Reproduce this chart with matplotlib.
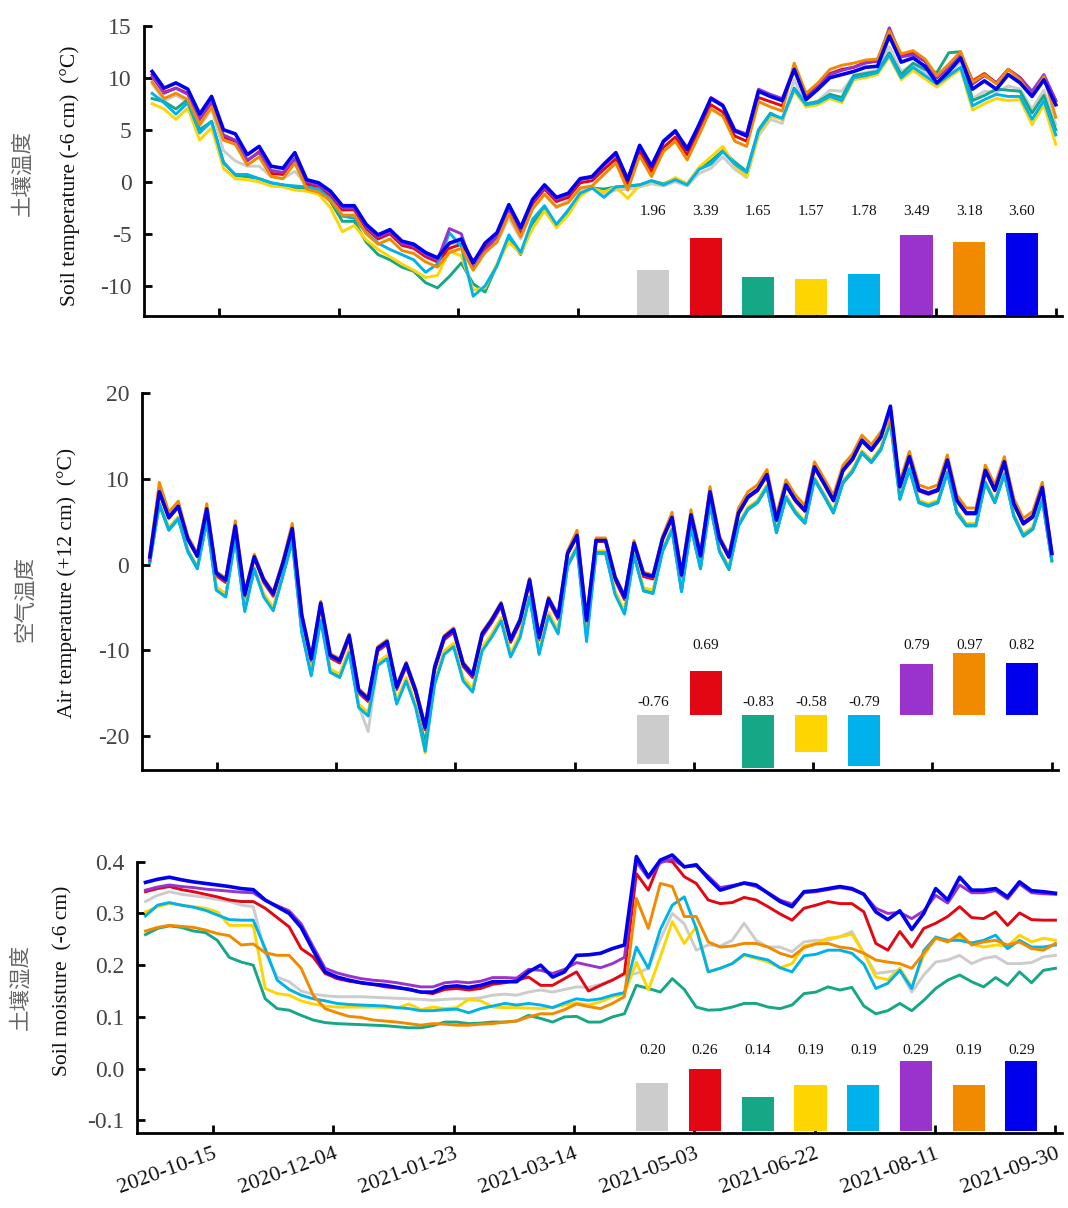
import numpy as np
import pandas as pd
import matplotlib
matplotlib.use("Agg")
import matplotlib.pyplot as plt

plt.rcParams['font.family'] = ['Liberation Serif', 'Noto Sans CJK SC', 'DejaVu Sans']
plt.rcParams['axes.unicode_minus'] = False

# series order = bar order
names = ["gray", "red", "green", "yellow", "cyan", "purple", "orange", "blue"]
colors = ["#CCCCCC", "#E30613", "#16A886", "#FFD500", "#00B2EB", "#9933CC", "#F28A00", "#0000EE"]

dates_soil = pd.date_range("2020-09-17", "2021-09-30", periods=77)
dates_air = pd.date_range("2020-09-17", "2021-09-30", periods=96)
tick_dates = pd.date_range("2020-10-15", periods=8, freq="50D")

# ---------------- soil temperature (-6 cm) ----------------
st_gray = [9.4, 7.8, 8.3, 7.7, 5.3, 7.0,
           3.0, 2.0, 1.5, 1.5, 0.5, 0.3, 1.0, -0.3, -0.5,
           -1.4, -2.8, -2.6, -4.0, -5.2, -5.0, -6.0, -6.3, -7.0, -7.4, -6.0, -5.8, -8.0, -6.5,
           -5.8, -3.5, -5.5, -2.6, -1.2, -2.5, -1.8, -0.8, -0.4,
           -1.2, -0.8, -0.7, -0.5, -0.2, -0.4, 0.0, -0.4, 0.8, 1.3, 2.4, 1.2, 0.4, 4.4, 6.0, 5.6,
           9.8, 7.2, 7.8, 8.8, 8.7, 10.2, 10.5, 10.7, 13.0, 10.6, 11.3, 10.5, 9.4, 10.4, 11.5, 8.0,
           8.7, 8.6, 9.2, 8.9, 7.0, 8.8, 5.5]
st_red = [10.3, 8.6, 9.0, 8.5, 6.0, 7.6, 4.3, 3.9, 2.0, 2.9, 0.8, 0.7, 2.2,
          -0.2, -0.5, -1.3, -2.7, -2.7, -4.5, -5.5, -5.0, -6.1, -6.4, -7.2, -7.7, -6.4, -6.0,
          -7.6, -6.3, -5.3, -2.7, -4.9, -2.1, -0.7, -1.9, -1.5, -0.1, 0.1,
          1.2, 2.2, -0.2, 2.9, 1.0, 3.3, 4.3, 2.6, 4.9, 7.4, 6.7, 4.4, 3.9, 8.1, 7.7, 7.3,
          11.2, 8.3, 9.3, 10.4, 10.8, 11.0, 11.5, 11.6, 14.6, 12.1, 12.4, 11.6, 10.0, 11.1, 12.3,
          9.7, 10.4, 9.5, 10.8, 10.0, 8.6, 10.2, 7.8]
st_green = [8.0, 7.7, 7.0, 7.9, 5.0, 5.8, 1.9, 0.6, 0.5, 0.3, -0.1, -0.3, -0.6, -0.6, -0.7,
            -1.9, -3.8, -3.8, -5.8, -7.0, -7.5, -8.2, -8.6, -9.7, -10.2, -9.1, -7.8, -9.8, -10.6,
            -8.0, -5.3, -7.0, -4.0, -2.5, -4.2, -2.9, -1.2, -0.6,
            -0.7, -0.5, -0.4, -0.3, 0.1, -0.2, 0.3, -0.2, 1.3, 2.0, 3.0, 1.9, 1.0, 5.0, 6.6, 6.0,
            9.0, 7.5, 7.7, 8.4, 8.1, 10.2, 10.4, 10.6, 12.4, 10.3, 11.4, 10.8, 10.5, 12.4, 12.5,
            7.8, 8.3, 8.9, 8.8, 8.7, 6.6, 8.3, 5.0]
st_yellow = [7.5, 7.0, 6.0, 7.1, 4.0, 5.2, 1.3, 0.3, 0.2, 0.0, -0.4, -0.5, -0.8, -0.9, -1.2,
             -2.5, -4.8, -4.2, -5.6, -6.5, -7.2, -7.9, -8.5, -9.2, -9.0, -6.7, -7.1, -10.4, -10.2,
             -7.9, -5.8, -6.9, -4.5, -2.8, -4.4, -3.2, -1.4, -0.6,
             -1.0, -0.5, -1.6, -0.3, 0.0, -0.3, 0.4, -0.2, 1.4, 2.4, 3.4, 1.6, 0.5, 4.6, 6.3, 6.0,
             8.7, 7.2, 7.4, 8.0, 7.6, 9.8, 10.0, 10.3, 12.0, 9.8, 10.7, 9.9, 9.1, 10.0, 10.8,
             6.9, 7.5, 8.0, 7.8, 7.9, 5.5, 7.4, 3.6]
st_cyan = [8.5, 7.6, 6.5, 7.6, 4.7, 5.8, 1.8, 0.7, 0.7, 0.3,
           -0.1, -0.3, -0.4, -0.5, -0.7, -1.7, -3.3, -3.5, -4.9, -5.9,
           -6.5, -7.0, -7.5, -8.7, -7.9, -4.9, -6.2, -11.0, -10.0, -8.1,
           -5.1, -6.8, -3.6, -2.3, -4.1, -2.7, -1.1, -0.6, -1.5, -0.5,
           -0.4, -0.3, 0.1, -0.3, 0.2, -0.3, 1.2, 1.7, 2.9, 1.7,
           0.9, 4.9, 6.5, 6.1, 8.9, 7.4, 7.6, 8.2, 7.8, 10.0,
           10.2, 10.5, 12.2, 10.0, 11.0, 10.2, 9.4, 10.2, 11.0, 7.3,
           7.9, 8.4, 8.2, 8.2, 6.0, 7.8, 4.5]
st_purple = [10.1, 8.5, 9.0, 8.4, 6.0, 7.7, 4.5, 4.0, 2.1, 2.8, 1.1, 0.9, 2.2,
             0.0, -0.3, -1.1, -2.5, -2.5, -4.3, -5.3, -4.8, -5.9, -6.2, -7.0, -7.5,
             -4.5, -5.0, -8.4, -6.6, -5.3, -2.6, -4.6, -1.9, -0.5, -1.7, -1.2, 0.2, 0.4,
             1.6, 2.6, 0.3, 3.4, 1.6, 3.8, 4.8, 3.3, 5.4, 8.1, 7.4, 5.0, 4.6, 8.9, 8.4, 8.0,
             11.0, 8.1, 9.1, 10.3, 10.7, 11.0, 11.4, 11.6, 14.8, 12.0, 12.2, 11.6, 10.0, 11.0,
             12.2, 9.4, 10.2, 9.5, 10.8, 10.0, 8.7, 10.3, 7.8]
st_orange = [9.6, 8.0, 8.5, 7.9, 5.5, 7.2, 4.0, 3.6, 1.6, 2.4, 0.5, 0.3, 1.8,
             -0.7, -1.0, -1.8, -3.2, -3.2, -5.0, -6.0, -5.5, -6.6, -6.9, -7.7, -8.2, -6.8, -6.4,
             -8.5, -6.8, -5.8, -3.1, -5.3, -2.6, -1.2, -2.4, -2.0, -0.6, -0.4,
             0.7, 1.8, -0.8, 2.5, 0.5, 2.9, 3.9, 2.1, 4.5, 7.0, 6.3, 3.9, 3.4, 7.7, 7.2, 6.8,
             11.4, 8.5, 9.5, 10.8, 11.2, 11.4, 11.7, 11.8, 14.5, 12.3, 12.6, 11.8, 10.2, 11.3,
             12.5, 9.6, 10.3, 9.4, 10.8, 9.8, 8.2, 10.1, 6.2]
st_blue = [10.6, 9.0, 9.5, 8.9, 6.5, 8.2, 5.0, 4.6, 2.6, 3.4,
           1.5, 1.3, 2.8, 0.2, -0.1, -0.9, -2.3, -2.3, -4.1, -5.1,
           -4.6, -5.7, -6.0, -6.8, -7.3, -5.9, -5.5, -7.8, -5.9, -4.9,
           -2.2, -4.4, -1.7, -0.3, -1.5, -1.1, 0.3, 0.5, 1.7, 2.8,
           0.2, 3.5, 1.5, 3.9, 4.9, 3.1, 5.5, 8.0, 7.3, 4.9,
           4.4, 8.7, 8.2, 7.8, 10.8, 7.9, 8.9, 10.0, 10.3, 10.6,
           11.0, 11.1, 14.0, 11.5, 11.9, 11.1, 9.5, 10.6, 11.9, 8.9,
           9.7, 8.9, 10.3, 9.5, 8.2, 9.8, 7.4]
st_means = [1.96, 3.39, 1.65, 1.57, 1.78, 3.49, 3.18, 3.60]

# ---------------- air temperature (+12 cm) ----------------
at_gray = [0.3, 7.1, 4.1, 5.4, 1.6, -0.4, 5.1, -2.8, -3.6, 3.1,
           -5.3, -0.5, -3.6, -5.2, -1.3, 2.8, -7.7, -12.8, -6.3, -12.4,
           -13.0, -10.1, -16.5, -19.5, -11.6, -10.8, -16.1, -13.4, -16.5, -20.8,
           -13.8, -10.3, -9.4, -13.4, -14.7, -9.9, -8.3, -6.4, -10.6, -8.3,
           -3.6, -10.3, -5.8, -7.9, -0.1, 2.0, -8.3, 1.4, 1.4, -3.3,
           -5.6, 1.1, -2.9, -3.2, 1.6, 4.1, -3.0, 4.4, -0.4, 7.1,
           1.6, -0.5, 4.6, 6.5, 7.3, 9.1, 3.8, 7.9, 6.1, 4.9,
           10.0, 8.1, 6.1, 9.6, 10.9, 13.1, 12.0, 13.5, 16.8, 7.7,
           11.2, 7.3, 6.9, 7.3, 10.8, 6.1, 4.6, 4.6, 9.6, 7.3,
           10.6, 5.7, 3.4, 4.2, 7.6, 0.5]
at_red = [0.8, 8.4, 5.4, 6.7, 2.9, 0.9, 6.4, -1.3, -2.1, 4.4,
          -3.8, 0.8, -2.1, -3.7, 0.0, 4.1, -6.2, -11.3, -4.8, -10.9,
          -11.5, -8.6, -15.0, -16.0, -10.1, -9.3, -14.6, -11.9, -15.0, -19.3,
          -12.3, -8.8, -7.9, -11.9, -13.2, -8.4, -6.8, -4.9, -9.1, -6.8,
          -2.1, -8.8, -4.3, -6.4, 1.2, 3.3, -6.8, 2.7, 2.7, -1.8,
          -4.1, 2.4, -1.4, -1.7, 2.9, 5.4, -1.5, 5.7, 0.9, 8.4,
          2.9, 0.8, 5.9, 7.8, 8.6, 10.4, 5.1, 9.2, 7.4, 6.2,
          11.3, 9.4, 7.4, 10.9, 12.2, 14.4, 13.3, 14.8, 17.6, 9.0,
          12.5, 8.6, 8.2, 8.6, 12.1, 7.4, 5.9, 5.9, 10.9, 8.6,
          11.9, 7.0, 4.7, 5.5, 8.9, 1.2]
at_green = [0.2, 7.0, 4.0, 5.3, 1.5, -0.5, 5.0, -2.8, -3.6, 3.0,
            -5.3, -0.6, -3.6, -5.2, -1.4, 2.7, -7.7, -12.8, -6.3, -12.4,
            -13.0, -10.1, -16.5, -17.5, -11.6, -10.8, -16.1, -13.4, -16.5, -20.8,
            -13.8, -10.3, -9.4, -13.4, -14.7, -9.9, -8.3, -6.4, -10.6, -8.3,
            -3.6, -10.3, -5.8, -7.9, -0.2, 1.9, -8.3, 1.3, 1.3, -3.3,
            -5.6, 1.0, -2.9, -3.2, 1.5, 4.0, -3.0, 4.3, -0.5, 7.0,
            1.5, -0.6, 4.5, 6.4, 7.2, 9.0, 3.7, 7.8, 6.0, 4.8,
            9.9, 8.0, 6.0, 9.5, 10.8, 13.0, 11.9, 13.4, 17.0, 7.6,
            11.1, 7.2, 6.8, 7.2, 10.7, 6.0, 4.5, 4.5, 9.5, 7.2,
            10.5, 5.6, 3.3, 4.1, 7.5, 0.4]
at_yellow = [0.4, 7.3, 4.3, 5.6, 1.8, -0.2, 5.3, -2.6, -3.4, 3.3,
             -5.1, -0.3, -3.4, -5.0, -1.1, 3.0, -7.5, -12.6, -6.1, -12.2,
             -12.8, -9.9, -16.3, -17.3, -11.4, -10.6, -15.9, -13.2, -16.3, -22.0,
             -13.6, -10.1, -9.2, -13.2, -14.5, -9.7, -8.1, -6.2, -10.4, -8.1,
             -3.4, -10.1, -5.6, -7.7, 0.1, 2.2, -8.1, 1.6, 1.6, -3.1,
             -5.4, 1.3, -2.7, -3.0, 1.8, 4.3, -2.8, 4.6, -0.2, 7.3,
             1.8, -0.3, 4.8, 6.7, 7.5, 9.3, 4.0, 8.1, 6.3, 5.1,
             10.2, 8.3, 6.3, 9.8, 11.1, 13.3, 12.2, 13.7, 17.2, 7.9,
             11.4, 7.5, 7.1, 7.5, 11.0, 6.3, 4.8, 4.8, 9.8, 7.5,
             10.8, 5.9, 3.6, 4.4, 7.8, 0.6]
at_cyan = [0.3, 7.1, 4.1, 5.4, 1.6, -0.4, 5.1, -3.0, -3.8, 3.1,
           -5.5, -0.5, -3.8, -5.4, -1.3, 2.8, -7.9, -13.0, -6.5, -12.6,
           -13.2, -10.3, -16.7, -17.7, -11.8, -11.0, -16.3, -13.6, -16.7, -21.8,
           -14.0, -10.5, -9.6, -13.6, -14.9, -10.1, -8.5, -6.6, -10.8, -8.5,
           -3.8, -10.5, -6.0, -8.1, -0.1, 2.0, -9.0, 1.4, 1.4, -3.5,
           -5.8, 1.1, -3.1, -3.4, 1.6, 4.1, -3.2, 4.4, -0.4, 7.1,
           1.6, -0.5, 4.6, 6.5, 7.3, 9.1, 3.8, 7.9, 6.1, 4.9,
           10.0, 8.1, 6.1, 9.6, 10.9, 13.1, 12.0, 13.5, 16.5, 7.7,
           11.2, 7.3, 6.9, 7.3, 10.8, 6.1, 4.6, 4.6, 9.6, 7.3,
           10.6, 5.7, 3.4, 4.2, 7.6, 0.5]
at_purple = [0.5, 8.6, 5.6, 6.9, 3.1, 1.1, 6.6, -1.1, -1.9, 4.6,
             -3.6, 1.0, -1.9, -3.5, 0.2, 4.3, -6.0, -11.1, -4.6, -10.7,
             -11.3, -8.4, -14.8, -15.8, -9.9, -9.1, -14.4, -11.7, -14.8, -19.1,
             -12.1, -8.6, -7.7, -11.7, -13.0, -8.2, -6.6, -4.7, -8.9, -6.6,
             -1.9, -8.6, -4.1, -6.2, 1.4, 3.5, -6.6, 2.9, 2.9, -1.6,
             -3.9, 2.6, -1.2, -1.5, 3.1, 5.6, -1.3, 5.9, 1.1, 8.6,
             3.1, 1.0, 6.1, 8.0, 8.8, 10.6, 5.3, 9.4, 7.6, 6.4,
             11.5, 9.6, 7.6, 11.1, 12.4, 14.6, 13.5, 15.0, 18.0, 9.2,
             12.7, 8.8, 8.4, 8.8, 12.3, 7.6, 6.1, 6.1, 11.1, 8.8,
             12.1, 7.2, 4.9, 5.7, 9.1, 1.4]
at_orange = [1.2, 9.6, 6.1, 7.4, 3.3, 1.3, 7.1, -0.8, -1.6, 5.1,
             -3.3, 1.2, -1.6, -3.2, 0.4, 4.8, -5.7, -10.8, -4.3, -10.4,
             -11.0, -8.1, -14.5, -15.5, -9.6, -8.8, -14.1, -11.4, -14.5, -18.8,
             -11.8, -8.3, -7.4, -11.4, -12.7, -7.9, -6.3, -4.4, -8.6, -6.3,
             -1.6, -8.3, -3.8, -5.9, 1.6, 4.0, -6.3, 3.1, 3.1, -1.3,
             -3.6, 2.8, -0.9, -1.2, 3.3, 6.1, -1.0, 6.4, 1.3, 9.1,
             3.3, 1.2, 6.6, 8.5, 9.3, 11.1, 5.8, 9.9, 8.1, 6.9,
             12.0, 10.1, 8.1, 11.6, 12.9, 15.1, 14.0, 15.5, 17.0, 9.7,
             13.2, 9.3, 8.9, 9.3, 12.8, 8.1, 6.6, 6.6, 11.6, 9.3,
             12.6, 7.7, 5.4, 6.2, 9.6, 1.6]
at_blue = [0.9, 8.5, 5.5, 6.8, 3.0, 1.0, 6.5, -1.0, -1.8, 4.5,
           -3.5, 0.9, -1.8, -3.4, 0.1, 4.2, -5.9, -11.0, -4.5, -10.6,
           -11.2, -8.3, -14.7, -15.7, -9.8, -9.0, -14.3, -11.6, -14.7, -19.0,
           -12.0, -8.5, -7.6, -11.6, -12.9, -8.1, -6.5, -4.6, -8.8, -6.5,
           -1.8, -8.5, -4.0, -6.1, 1.3, 3.4, -6.5, 2.8, 2.8, -1.5,
           -3.8, 2.5, -1.1, -1.4, 3.0, 5.5, -1.2, 5.8, 1.0, 8.5,
           3.0, 0.9, 6.0, 7.9, 8.7, 10.5, 5.2, 9.3, 7.5, 6.3,
           11.4, 9.5, 7.5, 11.0, 12.3, 14.5, 13.4, 14.9, 18.5, 9.1,
           12.6, 8.7, 8.3, 8.7, 12.2, 7.5, 6.0, 6.0, 11.0, 8.7,
           12.0, 7.1, 4.8, 5.6, 9.0, 1.3]
at_means = [-0.76, 0.69, -0.83, -0.58, -0.79, 0.79, 0.97, 0.82]

# ---------------- soil moisture (-6 cm) ----------------
sm_gray = [0.323, 0.335, 0.342, 0.337, 0.334, 0.331, 0.327, 0.323, 0.316, 0.313,
           0.223, 0.177, 0.168, 0.150, 0.144, 0.141, 0.139, 0.139, 0.139, 0.138,
           0.137, 0.136, 0.135, 0.134, 0.132, 0.134, 0.135, 0.135, 0.137, 0.142,
           0.144, 0.142, 0.148, 0.152, 0.148, 0.153, 0.158, 0.157, 0.163, 0.172,
           0.181, 0.184, 0.194, 0.250, 0.300, 0.280, 0.229, 0.239, 0.237, 0.248,
           0.281, 0.248, 0.235, 0.235, 0.226, 0.245, 0.248, 0.248, 0.255, 0.265,
           0.223, 0.184, 0.187, 0.190, 0.148, 0.181, 0.206, 0.210, 0.219, 0.203,
           0.213, 0.217, 0.203, 0.203, 0.205, 0.216, 0.219]
sm_red = [0.342, 0.348, 0.352, 0.346, 0.342, 0.337, 0.332, 0.326, 0.323, 0.323,
          0.310, 0.292, 0.274, 0.232, 0.216, 0.184, 0.174, 0.169, 0.166, 0.163,
          0.158, 0.156, 0.154, 0.148, 0.145, 0.153, 0.155, 0.152, 0.155, 0.163,
          0.166, 0.171, 0.177, 0.161, 0.161, 0.174, 0.187, 0.150, 0.161, 0.171,
          0.184, 0.377, 0.345, 0.403, 0.400, 0.371, 0.358, 0.326, 0.319, 0.321,
          0.331, 0.326, 0.313, 0.299, 0.287, 0.310, 0.316, 0.323, 0.319, 0.319,
          0.303, 0.242, 0.229, 0.265, 0.235, 0.271, 0.281, 0.294, 0.313, 0.292,
          0.290, 0.303, 0.277, 0.301, 0.288, 0.287, 0.287]
sm_green = [0.259, 0.271, 0.276, 0.273, 0.266, 0.263, 0.248, 0.215, 0.206, 0.200,
            0.135, 0.116, 0.113, 0.103, 0.094, 0.089, 0.087, 0.086, 0.085, 0.084,
            0.083, 0.081, 0.079, 0.079, 0.083, 0.090, 0.090, 0.087, 0.088, 0.090,
            0.090, 0.092, 0.103, 0.097, 0.090, 0.100, 0.101, 0.090, 0.090, 0.100,
            0.106, 0.161, 0.155, 0.148, 0.174, 0.153, 0.119, 0.113, 0.114, 0.119,
            0.126, 0.126, 0.119, 0.116, 0.123, 0.145, 0.148, 0.158, 0.152, 0.157,
            0.121, 0.106, 0.112, 0.126, 0.112, 0.132, 0.155, 0.171, 0.181, 0.168,
            0.158, 0.176, 0.161, 0.187, 0.166, 0.190, 0.194]
sm_yellow = [0.303, 0.313, 0.319, 0.316, 0.313, 0.310, 0.303, 0.277, 0.277, 0.277,
             0.155, 0.145, 0.142, 0.131, 0.125, 0.121, 0.119, 0.119, 0.119, 0.119,
             0.118, 0.117, 0.125, 0.114, 0.119, 0.116, 0.118, 0.134, 0.131, 0.119,
             0.118, 0.118, 0.117, 0.116, 0.118, 0.123, 0.127, 0.123, 0.129, 0.139,
             0.144, 0.206, 0.152, 0.216, 0.284, 0.242, 0.274, 0.187, 0.194, 0.203,
             0.219, 0.213, 0.206, 0.195, 0.203, 0.237, 0.242, 0.252, 0.255, 0.260,
             0.223, 0.177, 0.172, 0.194, 0.158, 0.219, 0.255, 0.245, 0.255, 0.241,
             0.235, 0.239, 0.237, 0.258, 0.245, 0.252, 0.248]
sm_cyan = [0.295, 0.316, 0.321, 0.316, 0.312, 0.306, 0.297, 0.288, 0.287, 0.287,
           0.232, 0.171, 0.153, 0.142, 0.135, 0.131, 0.126, 0.124, 0.123, 0.122,
           0.121, 0.118, 0.116, 0.112, 0.112, 0.114, 0.115, 0.108, 0.116, 0.121,
           0.126, 0.123, 0.126, 0.123, 0.118, 0.127, 0.135, 0.132, 0.135, 0.142,
           0.147, 0.235, 0.194, 0.269, 0.316, 0.332, 0.271, 0.187, 0.194, 0.203,
           0.221, 0.215, 0.210, 0.195, 0.187, 0.218, 0.221, 0.229, 0.229, 0.223,
           0.202, 0.155, 0.165, 0.190, 0.155, 0.228, 0.254, 0.248, 0.248, 0.243,
           0.248, 0.258, 0.232, 0.248, 0.235, 0.235, 0.239]
sm_purple = [0.345, 0.351, 0.355, 0.352, 0.350, 0.347, 0.345, 0.343, 0.341, 0.340,
             0.325, 0.315, 0.305, 0.280, 0.236,
             0.194, 0.185, 0.179, 0.174, 0.171, 0.169, 0.166, 0.162, 0.158, 0.158, 0.166,
             0.168, 0.166, 0.169, 0.176, 0.176, 0.175, 0.192, 0.190, 0.184, 0.192,
             0.205, 0.200, 0.195, 0.203, 0.215,
             0.400, 0.368, 0.398, 0.405, 0.390, 0.392, 0.372, 0.350, 0.354, 0.358, 0.352,
             0.340, 0.326, 0.318, 0.340, 0.342, 0.346, 0.350, 0.346, 0.337,
             0.310, 0.300, 0.302, 0.290, 0.305, 0.335, 0.320,
             0.355, 0.340, 0.340, 0.344, 0.328, 0.357, 0.340, 0.338, 0.337]
sm_orange = [0.266, 0.273, 0.277, 0.275, 0.273, 0.268, 0.261, 0.257, 0.239, 0.241,
             0.224, 0.219, 0.219, 0.194, 0.142, 0.116, 0.108, 0.101, 0.099, 0.094,
             0.092, 0.090, 0.087, 0.084, 0.087, 0.086, 0.084, 0.084, 0.086, 0.087,
             0.090, 0.092, 0.100, 0.106, 0.106, 0.114, 0.125, 0.120, 0.116, 0.126,
             0.139, 0.329, 0.271, 0.358, 0.352, 0.294, 0.294, 0.245, 0.235, 0.237,
             0.242, 0.242, 0.235, 0.223, 0.216, 0.234, 0.241, 0.242, 0.235, 0.232,
             0.223, 0.210, 0.206, 0.203, 0.194, 0.223, 0.252, 0.245, 0.261, 0.239,
             0.245, 0.248, 0.239, 0.245, 0.232, 0.229, 0.242]
sm_blue = [0.360, 0.366, 0.370, 0.365, 0.361, 0.358, 0.355, 0.352, 0.348, 0.346,
           0.326, 0.313, 0.300, 0.273, 0.229, 0.187, 0.177, 0.171, 0.166, 0.163,
           0.161, 0.157, 0.153, 0.148, 0.148, 0.158, 0.160, 0.157, 0.161, 0.168,
           0.168, 0.168, 0.187, 0.200, 0.177, 0.187, 0.219, 0.220, 0.223, 0.232,
           0.239, 0.410, 0.371, 0.403, 0.413, 0.390, 0.394, 0.368, 0.345, 0.352,
           0.359, 0.355, 0.339, 0.323, 0.313, 0.342, 0.344, 0.348, 0.352, 0.348,
           0.337, 0.303, 0.288, 0.305, 0.269, 0.300, 0.348, 0.326, 0.370, 0.345,
           0.345, 0.348, 0.332, 0.361, 0.344, 0.342, 0.339]
sm_means = [0.20, 0.26, 0.14, 0.19, 0.19, 0.29, 0.19, 0.29]

W, H = 1068, 1208


def box(l, t, r, b):
    return [l / W, 1 - b / H, (r - l) / W, (b - t) / H]


fig = plt.figure(figsize=(W / 100, H / 100), dpi=100)

tick_color = "#444444"
x0 = pd.Timestamp("2020-10-15") - pd.Timedelta(days=31.4)
x1 = pd.Timestamp("2021-09-30") + pd.Timedelta(days=2.6)


def main_panel(rect, dates, series, ylim, yticks, ylabels, show_x):
    ax = fig.add_axes(rect)
    for vals, c in zip(series, colors):
        lw = 2.6 if c == "#0000EE" else 2.1
        ax.plot(dates, vals, color=c, lw=lw, solid_joinstyle="round", clip_on=False)
    ax.set_xlim(x0, x1)
    ax.set_ylim(*ylim)
    ax.set_yticks(yticks)
    ax.set_yticklabels(ylabels)
    ax.set_xticks(tick_dates)
    if show_x:
        ax.set_xticklabels([d.strftime("%Y-%m-%d") for d in tick_dates],
                           rotation=20, ha="right", va="top", rotation_mode="anchor",
                           color="#111111", fontsize=16)
    else:
        ax.set_xticklabels([])
    for s in ["top", "right"]:
        ax.spines[s].set_visible(False)
    for s in ["left", "bottom"]:
        ax.spines[s].set_linewidth(2.0)
    ax.tick_params(direction="in", length=6, width=2, pad=9)
    ax.tick_params(axis="y", labelsize=17, labelcolor=tick_color)
    ax.tick_params(axis="x", pad=8)
    return ax


def bar_inset(rect, means, ylim, pos_y, neg_y=None):
    ax = fig.add_axes(rect)
    ax.bar(np.arange(8), means, width=0.61, color=colors, linewidth=0)
    ax.set_xlim(-0.5, 7.5)
    ax.set_ylim(*ylim)
    ax.axis("off")
    for i, v in enumerate(means):
        ty = pos_y if (v >= 0 or neg_y is None) else neg_y
        ax.text(i, ty, f"{v:.2f}", ha="center", va="center", fontsize=11, color="#111111")
    return ax


main_panel(box(144, 25.7, 1062, 316), dates_soil,
           [st_gray, st_red, st_green, st_yellow, st_cyan, st_purple, st_orange, st_blue],
           (-12.9, 15), [-10, -5, 0, 5, 10, 15], ["-10", "-5", "0", "5", "10", "15"], False)
bar_inset(box(626.6, 200, 1048.3, 315), st_means, (0, 115 / 22.8), 4.52)

main_panel(box(141.7, 393.3, 1058, 770), dates_air,
           [at_gray, at_red, at_green, at_yellow, at_cyan, at_purple, at_orange, at_blue],
           (-24, 20), [-20, -10, 0, 10, 20], ["-20", "-10", "0", "10", "20"], False)
bar_inset(box(626.6, 630, 1048.3, 775), at_means, (-60 / 64, 85 / 64), 1.08, 0.20)

main_panel(box(137.3, 861.7, 1061.7, 1133.3), dates_soil,
           [sm_gray, sm_red, sm_green, sm_yellow, sm_cyan, sm_purple, sm_orange, sm_blue],
           (-0.125, 0.4), [-0.1, 0.0, 0.1, 0.2, 0.3, 0.4],
           ["-0.1", "0.0", "0.1", "0.2", "0.3", "0.4"], True)
bar_inset(box(626, 1030, 1047.7, 1131), sm_means, (0, 101 / 240), 0.3375)

# y labels: Chinese (grey) and English
cjk = ['Noto Sans CJK SC', 'DejaVu Sans']
labels = [
    (23, 173, "土壤温度", 70, 176, "Soil temperature (-6 cm)  (°C)"),
    (25, 599, "空气温度", 67, 583, "Air temperature (+12 cm)  (°C)"),
    (21, 987, "土壤湿度", 63, 981, "Soil moisture  (-6 cm)"),
]
for cx, cy, ctext, ex, ey, etext in labels:
    fig.text(cx / W, 1 - cy / H, ctext, rotation=90, ha="center", va="center",
             fontsize=15.5, color="#666666", family=cjk, fontweight="light")
    fig.text(ex / W, 1 - ey / H, etext, rotation=90, ha="center", va="center",
             fontsize=15.5, color="#111111")

fig.savefig("out.png", dpi=100)
